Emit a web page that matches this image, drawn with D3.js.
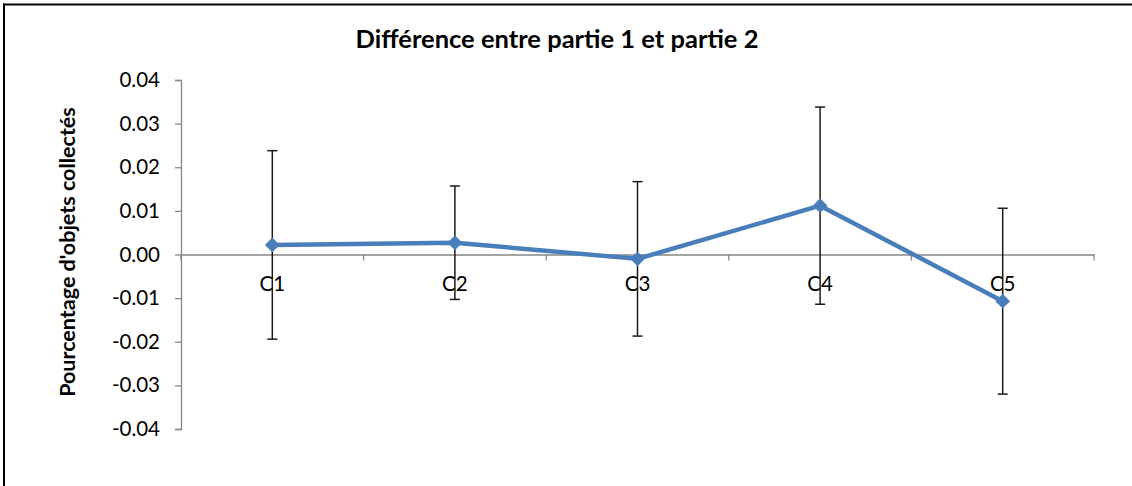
<!DOCTYPE html>
<html><head><meta charset="utf-8">
<script src="https://cdn.jsdelivr.net/npm/d3@7"></script>
<style>body{margin:0;background:#fff;}svg{display:block;}</style>
</head><body>
<script>
const categories = ["C1","C2","C3","C4","C5"];
const values = [0.0022, 0.0027, -0.0010, 0.0112, -0.0107];
const errors = [0.0216, 0.0130, 0.0177, 0.0226, 0.0213];
const yTicks = [-0.04,-0.03,-0.02,-0.01,0,0.01,0.02,0.03,0.04];
const title = "Différence entre partie 1 et partie 2";
const yLabel = "Pourcentage d'objets collectés";

const W=1132,H=486;
const svg=d3.select("body").append("svg").attr("width",W).attr("height",H);
svg.append("rect").attr("width",W).attr("height",H).attr("fill","#fff");
// frame (top and left visible)
svg.append("line").attr("x1",3).attr("x2",W).attr("y1",4.5).attr("y2",4.5).attr("stroke","#000").attr("stroke-width",2);
svg.append("line").attr("x1",4).attr("x2",4).attr("y1",3.5).attr("y2",H).attr("stroke","#000").attr("stroke-width",2);

const x=d3.scaleBand().domain(categories).range([181,1094]).padding(0);
const y=d3.scaleLinear().domain([-0.04,0.04]).range([429,80]);
const font="Lato, 'Open Sans', sans-serif";
const fmt=d=>d3.format(".2f")(d).replace("\u2212","-");

// y axis
const yAxis=svg.append("g").attr("transform","translate(181,0)")
  .call(d3.axisLeft(y).tickValues(yTicks).tickFormat(fmt).tickSizeOuter(0).tickSize(6).tickPadding(15));
yAxis.select(".domain").attr("stroke","#868686").attr("stroke-width",1.3);
yAxis.selectAll(".tick line").attr("stroke","#868686").attr("stroke-width",1.3);
yAxis.selectAll(".tick text").attr("font-family",font).attr("font-size",20.5).attr("fill","#000");

// x axis at zero
const xAxis=svg.append("g").attr("transform",`translate(0,${y(0)})`)
  .call(d3.axisBottom(x).tickSize(0).tickSizeOuter(0).tickPadding(22));
xAxis.select(".domain").attr("stroke","#868686").attr("stroke-width",1.3);
xAxis.selectAll(".tick text").attr("font-family",font).attr("font-size",20.5).attr("fill","#000");
// boundary ticks
const bounds=categories.map(c=>x(c)).concat([x.range()[1]]);
svg.append("g").selectAll("line").data(bounds).join("line")
  .attr("x1",d=>d).attr("x2",d=>d).attr("y1",y(0)).attr("y2",y(0)+6)
  .attr("stroke","#868686").attr("stroke-width",1.3);

const cx=c=>x(c)+x.bandwidth()/2;
const data=categories.map((c,i)=>({c,v:values[i],e:errors[i]}));

// line
svg.append("path").datum(data)
  .attr("d",d3.line().x(d=>cx(d.c)).y(d=>y(d.v)))
  .attr("fill","none").attr("stroke","#4a7ebb").attr("stroke-width",4.5).attr("stroke-linejoin","round");

// error bars
const eb=svg.append("g").attr("stroke","#1a1a1a").attr("stroke-width",1.5);
data.forEach(d=>{
  const X=cx(d.c);
  eb.append("line").attr("x1",X).attr("x2",X).attr("y1",y(d.v+d.e)).attr("y2",y(d.v-d.e));
  eb.append("line").attr("x1",X-5).attr("x2",X+5).attr("y1",y(d.v+d.e)).attr("y2",y(d.v+d.e));
  eb.append("line").attr("x1",X-5).attr("x2",X+5).attr("y1",y(d.v-d.e)).attr("y2",y(d.v-d.e));
});

// markers
svg.append("g").selectAll("path").data(data).join("path")
  .attr("transform",d=>`translate(${cx(d.c)},${y(d.v)})`)
  .attr("d",d3.symbol().type(d3.symbolDiamond2).size(140))
  .attr("fill","#4a7ebb");

// title
svg.append("text").attr("x",557).attr("y",48).attr("text-anchor","middle")
  .attr("font-family",font).attr("font-weight","bold").attr("font-size",25.5).text(title);
// y label
svg.append("text").attr("transform","translate(75,252) rotate(-90)").attr("text-anchor","middle")
  .attr("font-family",font).attr("font-weight","bold").attr("font-size",21.5).text(yLabel);
</script>
</body></html>
